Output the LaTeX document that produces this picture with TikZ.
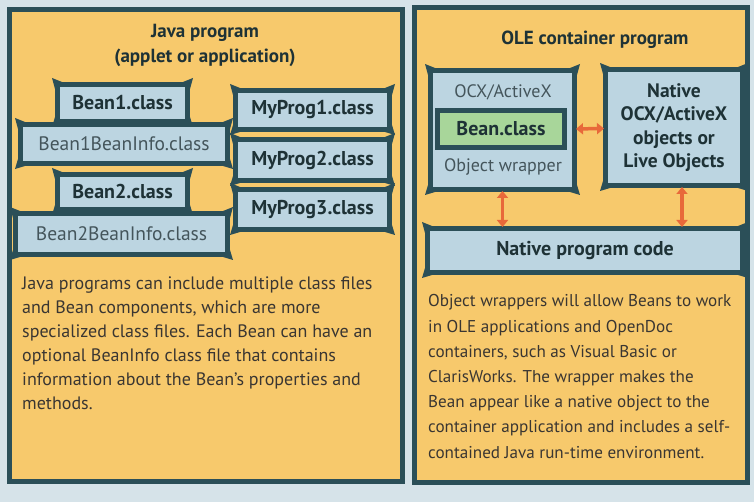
\documentclass[tikz,border=0pt]{standalone}
\usepackage{fontspec}
\setmainfont{PT Sans}
\usetikzlibrary{arrows.meta,calc}
\definecolor{bg}{HTML}{D6E3E9}
\definecolor{panel}{HTML}{F7C96C}
\definecolor{dk}{HTML}{2B4F58}
\definecolor{bx}{HTML}{BCD5E1}
\definecolor{grn}{HTML}{A8D69A}
\definecolor{ink}{HTML}{1E3236}
\definecolor{gink}{HTML}{44555B}
\definecolor{body}{HTML}{3A3632}
\definecolor{orng}{HTML}{E8693A}
\newcommand\flr[1]{%
  \fill[dk] ($(#1.north west)+(7,0)$) -- ($(#1.north west)+(-3,-4)$) -- ($(#1.north west)+(0,7)$) -- cycle;
  \fill[dk] ($(#1.north east)+(-7,0)$) -- ($(#1.north east)+(3,-4)$) -- ($(#1.north east)+(0,7)$) -- cycle;
  \fill[dk] ($(#1.south west)+(7,0)$) -- ($(#1.south west)+(-3,3)$) -- ($(#1.south west)+(0,-7)$) -- cycle;
  \fill[dk] ($(#1.south east)+(-7,0)$) -- ($(#1.south east)+(3,3)$) -- ($(#1.south east)+(0,-7)$) -- cycle;
}
\tikzset{
  panelbox/.style={draw=dk, line width=5pt, fill=panel},
  cbox/.style={draw=dk, line width=5pt, fill=bx, inner sep=0pt},
  boldlbl/.style={font=\fontsize{20}{22}\selectfont\bfseries, text=ink},
  reglbl/.style={font=\fontsize{19.5}{22}\selectfont, text=gink},
  smlbl/.style={font=\fontsize{18}{20}\selectfont, text=gink},
  title/.style={font=\fontsize{19}{25}\selectfont\bfseries, text=ink, align=center},
  bodytext/.style={text=body, align=left, inner sep=0pt, anchor=north west},
  oarr/.style={draw=orng, line width=3.5pt, {Triangle[width=11pt,length=7pt]}-{Triangle[width=11pt,length=7pt]}, shorten <=-1pt, shorten >=-1pt},
}
\begin{document}
\begin{tikzpicture}[x=1pt,y=-1pt]
\useasboundingbox (0,0) rectangle (754,502);
\fill[bg] (0,0) rectangle (754,502);
% panels
\node[panelbox, minimum width=393, minimum height=472, inner sep=0pt] (lp) at (206,245.5) {};
\node[panelbox, minimum width=333, minimum height=475, inner sep=0pt] (rp) at (581,245) {};
% left panel
\node[title] (jt) at (205,45) {Java program\\(applet or application)};
\node[cbox, boldlbl, minimum width=130, minimum height=37] (bean1) at (122.5,103) {Bean1.class};
\node[cbox, reglbl, minimum width=207, minimum height=39] (info1) at (124,144) {Bean1BeanInfo.class};
\node[cbox, boldlbl, minimum width=130, minimum height=35] (bean2) at (122.5,192) {Bean2.class};
\node[cbox, reglbl, minimum width=212, minimum height=41] (info2) at (121.5,234) {Bean2BeanInfo.class};
\node[cbox, boldlbl, minimum width=154, minimum height=39] (prog1) at (312.5,110) {MyProg1.class};
\node[cbox, boldlbl, minimum width=154, minimum height=41] (prog2) at (312.5,160) {MyProg2.class};
\node[cbox, boldlbl, minimum width=154, minimum height=40] (prog3) at (312.5,209.5) {MyProg3.class};
\foreach \n in {bean1,info1,bean2,info2,prog1,prog2,prog3} {\flr{\n}}
\node[bodytext, font=\fontsize{18}{24}\selectfont] (jtext) at (22,277) {Java programs can include multiple class files\\and Bean components, which are more\\specialized class files. Each Bean can have an\\optional BeanInfo class file that contains\\information about the Bean's properties and\\methods.};
% right panel
\node[title] (ot) at (595,40) {OLE container program};
\node[cbox, minimum width=144, minimum height=119] (wrap) at (502.5,130) {};
\node[smlbl] (ocx) at (503,92) {OCX/ActiveX};
\node[draw=dk, line width=4.5pt, fill=grn, inner sep=0pt, minimum width=127, minimum height=37, boldlbl] (bean) at (501,129) {Bean.class};
\node[smlbl] (ow) at (503,167) {Object wrapper};
\node[cbox, boldlbl, minimum width=137, minimum height=116, align=center, font=\fontsize{19.5}{23.5}\selectfont\bfseries] (native) at (674,127.5) {Native\\OCX/ActiveX\\objects or\\Live Objects};
\node[cbox, boldlbl, minimum width=315, minimum height=44] (code) at (585,250.5) {Native program code};
\foreach \n in {wrap,native,code} {\flr{\n}}
\draw[oarr] (wrap) -- (native);
\draw[oarr] (wrap.south) -- (wrap.south |- code.north);
\coordinate (nsx) at ($(native.south)+(8,0)$);
\draw[oarr] (nsx) -- (nsx |- code.north);
\node[bodytext, font=\fontsize{17.1}{25.2}\selectfont] (otext) at (428,294.5) {Object wrappers will allow Beans to work\\in OLE applications and OpenDoc\\containers, such as Visual Basic or\\ClarisWorks. The wrapper makes the\\Bean appear like a native object to the\\container application and includes a self-\\contained Java run-time environment.};
\end{tikzpicture}
\end{document}
